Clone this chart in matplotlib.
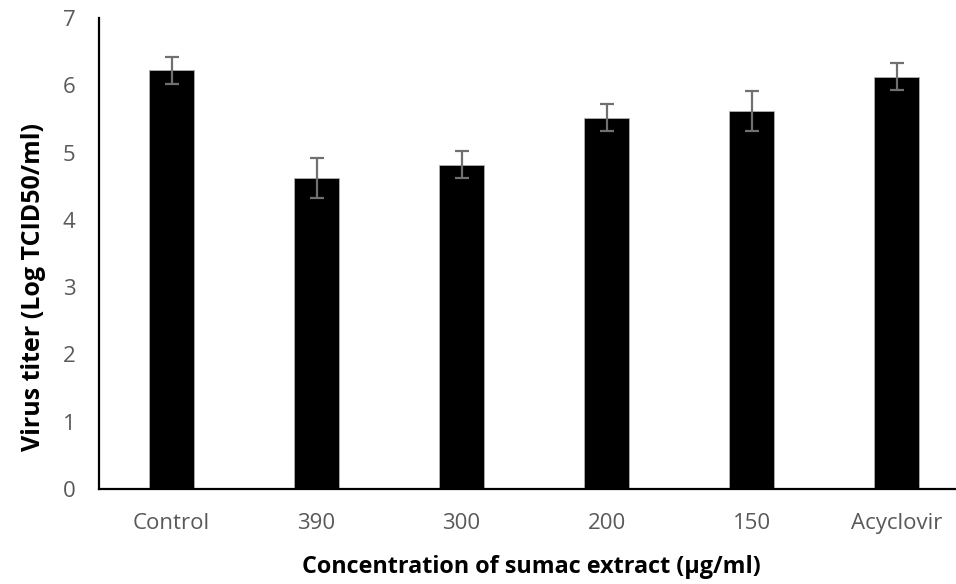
import matplotlib.pyplot as plt

# Values
categories = ['Control', '390', '300', '200', '150', 'Acyclovir']
titer = [6.22, 4.62, 4.82, 5.52, 5.62, 6.13]
titer_err = [0.2, 0.3, 0.2, 0.2, 0.3, 0.2]

plt.rcParams['font.family'] = ['Open Sans', 'DejaVu Sans']

fig = plt.figure(figsize=(9.56, 5.84), dpi=100)
ax = fig.add_axes([99 / 956, 95 / 584, 1 - 99 / 956, (489 - 18) / 584])

x = range(len(categories))
ax.bar(x, titer, width=0.31, color='black', edgecolor='#b0b0b0', linewidth=0.6,
       yerr=titer_err, capsize=5,
       error_kw=dict(ecolor='#707070', elinewidth=1.6, capthick=1.6))

ax.set_xlim(-0.5, 5.41)
ax.set_ylim(0, 7)
ax.set_xticks(list(x))
ax.set_xticklabels(categories)
ax.set_yticks(range(8))

ax.spines['top'].set_visible(False)
ax.spines['right'].set_visible(False)
ax.spines['left'].set_linewidth(1.6)
ax.spines['bottom'].set_linewidth(1.6)
ax.tick_params(axis='both', length=0, labelsize=16, colors='#595959')
ax.tick_params(axis='x', pad=17)
ax.tick_params(axis='y', pad=17)

ax.set_xlabel('Concentration of sumac extract (µg/ml)', fontsize=16.8,
              fontweight='bold')
ax.set_ylabel('Virus titer (Log TCID50/ml)', fontsize=18, fontweight='bold')
ax.xaxis.set_label_coords(0.505, -0.140)
ax.yaxis.set_label_coords(-0.062, 0.428)

plt.savefig('out.png', dpi=100)
